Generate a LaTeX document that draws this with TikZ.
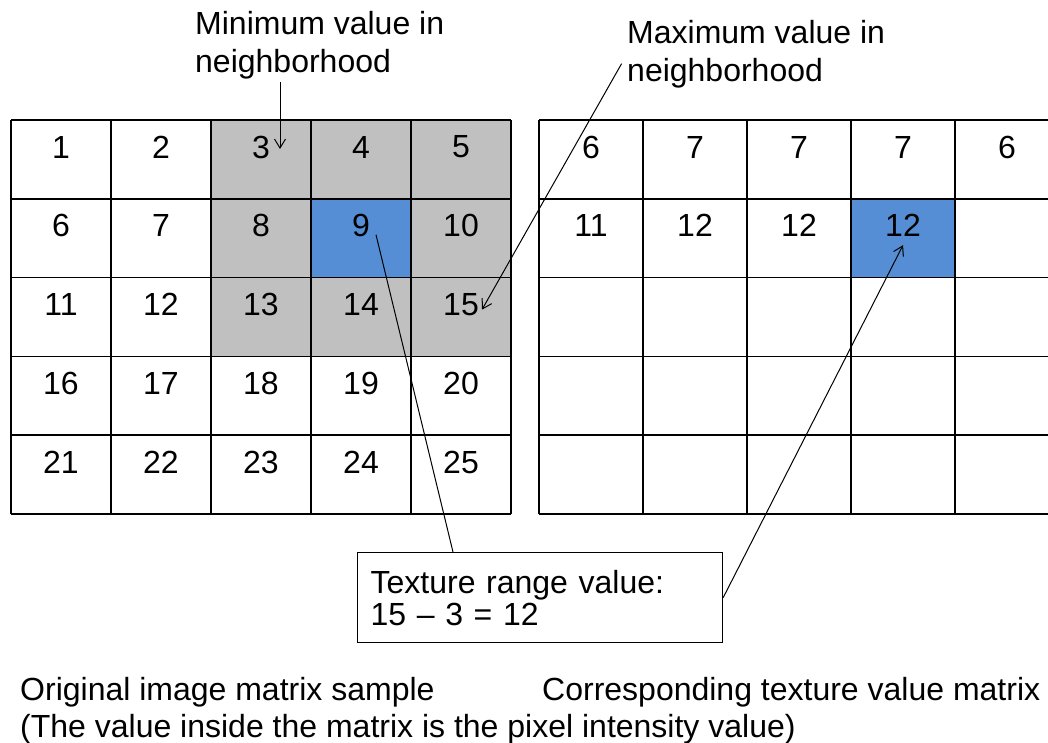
\documentclass[tikz,border=0pt]{standalone}
\usepackage{fontspec}
\setmainfont{Liberation Sans}
\usetikzlibrary{arrows.meta}
\definecolor{nbGray}{RGB}{192,192,192}
\definecolor{centerBlue}{RGB}{85,142,213}

\begin{document}
\begin{tikzpicture}[x=1pt,y=-1pt,
  every node/.style={font=\fontsize{32}{38}\selectfont, inner sep=0pt},
  gridline/.style={line width=1.5pt},
  pointer/.style={line width=1pt, -{Straight Barb[length=9pt,width=11pt]}},
  leader/.style={line width=1pt}]
% Parameters
\def\cellW{100};
\def\rightW{104};
\def\cellH{78.8};
\def\leftX{11};
\def\rightX{539};
\def\gridTop{120};
\def\numDrop{27};

\useasboundingbox (0,0) rectangle (1048,742);
\clip (0,0) rectangle (1048,742);

% Neighborhood and centre cells
\fill[nbGray] (\leftX+2*\cellW,\gridTop) rectangle (\leftX+5*\cellW,\gridTop+3*\cellH);
\fill[centerBlue] (\leftX+3*\cellW,\gridTop+\cellH) rectangle (\leftX+4*\cellW,\gridTop+2*\cellH);
\fill[centerBlue] (\rightX+3*\rightW,\gridTop+\cellH) rectangle (\rightX+4*\rightW,\gridTop+2*\cellH);

% Grid lines
\foreach \i in {0,...,5}
{
\draw[gridline] (\leftX+\i*\cellW,\gridTop) -- (\leftX+\i*\cellW,\gridTop+5*\cellH);
\draw[gridline] (\leftX,\gridTop+\i*\cellH) -- (\leftX+5*\cellW,\gridTop+\i*\cellH);
\draw[gridline] (\rightX+\i*\rightW,\gridTop) -- (\rightX+\i*\rightW,\gridTop+5*\cellH);
\draw[gridline] (\rightX,\gridTop+\i*\cellH) -- (\rightX+5*\rightW,\gridTop+\i*\cellH);
}

% Original values
\foreach \r in {1,...,5}
\foreach \c in {1,...,5}
{
\pgfmathtruncatemacro\val{(\r-1)*5+\c}
\node (L-\r-\c) at (\leftX+\c*\cellW-0.5*\cellW,\gridTop+\r*\cellH-\cellH+\numDrop) {\val};
}

% Texture values
\foreach \v [count=\c] in {6,7,7,7,6}
{
\node (R-1-\c) at (\rightX+\c*\rightW-0.5*\rightW,\gridTop+\numDrop) {\v};
}
\foreach \v [count=\c] in {11,12,12,12}
{
\node (R-2-\c) at (\rightX+\c*\rightW-0.5*\rightW,\gridTop+\cellH+\numDrop) {\v};
}

% Labels
\node[anchor=north west, align=left] (minLabel) at (195,11) {Minimum value in\\neighborhood};
\node[anchor=north west, align=left] (maxLabel) at (627,20) {Maximum value in\\neighborhood};
\node[draw, line width=1.2pt, anchor=north west, align=left, text width=339pt, inner xsep=13pt,
  minimum height=90pt, font=\fontsize{32}{32}\selectfont] (rangeBox) at (357,552)
  {Texture range value:\\15 – 3 = 12};
\node[anchor=base west] (origCaption) at (20,700) {Original image matrix sample};
\node[anchor=base west] (textureCaption) at (542,700) {Corresponding texture value matrix};
\node[anchor=base west] (noteCaption) at (20,737) {(The value inside the matrix is the pixel intensity value)};

% Pointers
\draw[pointer] ([yshift=-3pt]minLabel.south -| L-1-3.center) ++(19,0) -- ([shift={(19,2)}]L-1-3.center);
\draw[pointer, shorten <=11pt] (maxLabel.west) -- ([shift={(21,5)}]L-3-5.center);
\draw[leader] ([shift={(15,9)}]L-2-4.center) -- ([xshift=96pt]rangeBox.north west);
\draw[pointer] (rangeBox.east) -- ([yshift=-8pt]R-2-4.south);

\end{tikzpicture}
\end{document}
